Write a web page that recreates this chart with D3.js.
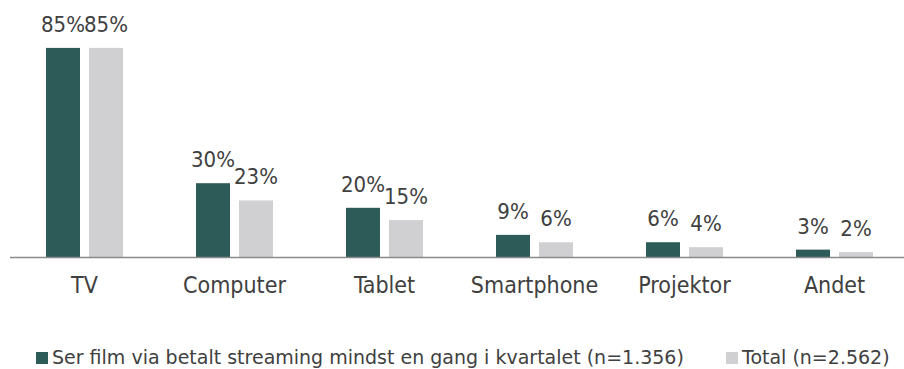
<!DOCTYPE html>
<html>
<head>
<meta charset="utf-8">
<script src="https://cdn.jsdelivr.net/npm/d3@7"></script>
<style>
  html, body { margin: 0; padding: 0; background: #fff; }
  svg { display: block; font-family: "DejaVu Sans Condensed", "DejaVu Sans", sans-serif; }
</style>
</head>
<body>
<svg id="chart" width="904" height="369"></svg>
<script>
// Devices used to watch films
const categories = ["TV", "Computer", "Tablet", "Smartphone", "Projektor", "Andet"];
const seriesNames = [
  "Ser film via betalt streaming mindst en gang i kvartalet (n=1.356)",
  "Total (n=2.562)"
];
const streamingValues = [85, 30, 20, 9, 6, 3];
const totalValues = [85, 23, 15, 6, 4, 2];
const seriesColors = ["#2d5b58", "#d0d0d2"];

const seriesValues = [streamingValues, totalValues];
const rows = categories.map((c, i) => ({
  category: c,
  values: seriesNames.map((s, j) => ({ series: s, value: seriesValues[j][i] }))
}));

const svg = d3.select("#chart");
const textColor = "#404040";

const baseline = 257;
const x0 = d3.scaleBand().domain(categories).range([9.5, 909.5]).padding(0);
const x1 = d3.scaleBand().domain(seriesNames).range([36.5, 113.5]).paddingInner(9 / 43).paddingOuter(0);
const y = d3.scaleLinear().domain([0, 100]).range([baseline, 11]);
const color = d3.scaleOrdinal().domain(seriesNames).range(seriesColors);

const groups = svg.selectAll("g.cat")
  .data(rows)
  .join("g")
  .attr("class", "cat")
  .attr("transform", d => `translate(${x0(d.category)},0)`);

groups.selectAll("rect")
  .data(d => d.values)
  .join("rect")
  .attr("x", d => x1(d.series))
  .attr("y", d => y(d.value))
  .attr("width", x1.bandwidth())
  .attr("height", d => y(0) - y(d.value))
  .attr("fill", d => color(d.series));

groups.selectAll("text.val")
  .data(d => d.values)
  .join("text")
  .attr("class", "val")
  .attr("x", d => x1(d.series) + x1.bandwidth() / 2)
  .attr("y", d => y(d.value) - 16)
  .attr("text-anchor", "middle")
  .attr("font-size", 22)
  .attr("fill", textColor)
  .text(d => d.value + "%");

// Category axis
const xAxis = d3.axisBottom(x0).tickSize(0).tickPadding(20);
const axisG = svg.append("g")
  .attr("transform", `translate(0,${baseline})`)
  .call(xAxis);
axisG.select(".domain").attr("stroke", "#8a8a8a").attr("stroke-width", 1.6);
axisG.selectAll(".tick text")
  .attr("font-size", 23)
  .attr("fill", textColor)
  .attr("font-family", "DejaVu Sans Condensed, DejaVu Sans, sans-serif");

// Legend
const legendX = [36, 726];
const legend = svg.selectAll("g.legend")
  .data(seriesNames)
  .join("g")
  .attr("class", "legend")
  .attr("transform", (d, i) => `translate(${legendX[i]},352)`);
legend.append("rect")
  .attr("width", 12)
  .attr("height", 12)
  .attr("fill", d => color(d));
legend.append("text")
  .attr("x", 16)
  .attr("y", 11.5)
  .attr("font-size", 19)
  .attr("font-family", "DejaVu Sans, sans-serif")
  .attr("fill", textColor)
  .text(d => d);
</script>
</body>
</html>
